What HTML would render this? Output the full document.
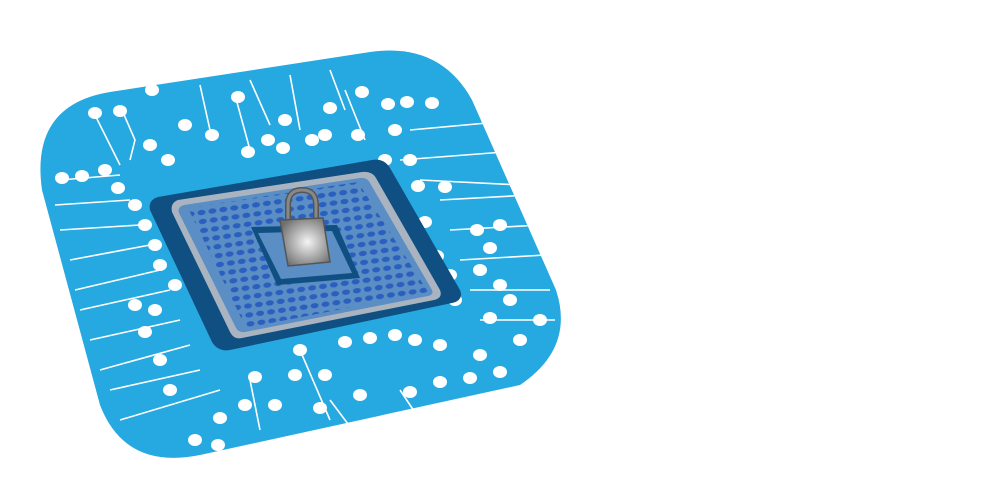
<!DOCTYPE html>
<html><head><style>html,body{margin:0;padding:0;background:#fff;width:1000px;height:504px;overflow:hidden}</style></head>
<body>
<svg width="1000" height="504" viewBox="0 0 1000 504" xmlns="http://www.w3.org/2000/svg">
<defs>
<pattern id="dp" width="11" height="9" patternUnits="userSpaceOnUse" patternTransform="rotate(-8)">
<ellipse cx="5" cy="4.5" rx="4" ry="2.6" fill="#2a5fc0"/>
</pattern>
<radialGradient id="lg" cx="0.55" cy="0.5" r="0.6">
<stop offset="0" stop-color="#f4f4f4"/><stop offset="1" stop-color="#6f6f6f"/>
</radialGradient>
</defs>
<path d="M110,92 L370,52 Q440,42 472,100 L556,290 Q575,348 520,385 L200,455 Q125,470 100,405 L42,190 Q30,105 110,92 Z" fill="#26a9e0"/>
<g stroke="#fff" stroke-width="1.6" fill="none">
<path d="M95,115 L120,165 M122,110 L135,140 L130,160 M200,85 L210,130 M235,95 L250,150 M250,80 L270,125 M290,75 L300,130 M330,70 L345,110 M345,90 L365,140 M60,180 L120,175 M55,205 L130,200 M60,230 L140,225 M70,260 L150,245 M75,290 L160,270 M80,310 L170,290 M90,340 L180,320 M100,370 L190,345 M110,390 L200,370 M120,420 L220,390 M410,130 L520,120 M400,160 L530,150 M420,180 L520,185 M440,200 L530,195 M450,230 L540,225 M460,260 L545,255 M470,290 L550,290 M480,320 L555,320 M300,350 L330,420 M250,380 L260,430 M330,400 L360,440 M400,390 L420,420"/>
</g>
<g fill="#fff">
<ellipse cx="95" cy="113" rx="7" ry="6"/><ellipse cx="120" cy="111" rx="7" ry="6"/><ellipse cx="152" cy="90" rx="7" ry="6"/>
<ellipse cx="150" cy="145" rx="7" ry="6"/><ellipse cx="168" cy="160" rx="7" ry="6"/><ellipse cx="185" cy="125" rx="7" ry="6"/>
<ellipse cx="212" cy="135" rx="7" ry="6"/><ellipse cx="238" cy="97" rx="7" ry="6"/><ellipse cx="248" cy="152" rx="7" ry="6"/>
<ellipse cx="268" cy="140" rx="7" ry="6"/><ellipse cx="285" cy="120" rx="7" ry="6"/><ellipse cx="283" cy="148" rx="7" ry="6"/>
<ellipse cx="312" cy="140" rx="7" ry="6"/><ellipse cx="330" cy="108" rx="7" ry="6"/><ellipse cx="325" cy="135" rx="7" ry="6"/>
<ellipse cx="358" cy="135" rx="7" ry="6"/><ellipse cx="362" cy="92" rx="7" ry="6"/><ellipse cx="388" cy="104" rx="7" ry="6"/>
<ellipse cx="407" cy="102" rx="7" ry="6"/><ellipse cx="432" cy="103" rx="7" ry="6"/><ellipse cx="395" cy="130" rx="7" ry="6"/>
<ellipse cx="385" cy="160" rx="7" ry="6"/><ellipse cx="410" cy="160" rx="7" ry="6"/><ellipse cx="418" cy="186" rx="7" ry="6"/>
<ellipse cx="445" cy="187" rx="7" ry="6"/><ellipse cx="425" cy="222" rx="7" ry="6"/><ellipse cx="477" cy="230" rx="7" ry="6"/>
<ellipse cx="500" cy="225" rx="7" ry="6"/><ellipse cx="437" cy="256" rx="7" ry="6"/><ellipse cx="490" cy="248" rx="7" ry="6"/>
<ellipse cx="450" cy="275" rx="7" ry="6"/><ellipse cx="480" cy="270" rx="7" ry="6"/><ellipse cx="500" cy="285" rx="7" ry="6"/>
<ellipse cx="455" cy="300" rx="7" ry="6"/><ellipse cx="510" cy="300" rx="7" ry="6"/><ellipse cx="490" cy="318" rx="7" ry="6"/>
<ellipse cx="540" cy="320" rx="7" ry="6"/><ellipse cx="520" cy="340" rx="7" ry="6"/><ellipse cx="480" cy="355" rx="7" ry="6"/>
<ellipse cx="440" cy="345" rx="7" ry="6"/><ellipse cx="415" cy="340" rx="7" ry="6"/><ellipse cx="395" cy="335" rx="7" ry="6"/>
<ellipse cx="370" cy="338" rx="7" ry="6"/><ellipse cx="345" cy="342" rx="7" ry="6"/><ellipse cx="300" cy="350" rx="7" ry="6"/>
<ellipse cx="295" cy="375" rx="7" ry="6"/><ellipse cx="325" cy="375" rx="7" ry="6"/><ellipse cx="360" cy="395" rx="7" ry="6"/>
<ellipse cx="410" cy="392" rx="7" ry="6"/><ellipse cx="440" cy="382" rx="7" ry="6"/><ellipse cx="470" cy="378" rx="7" ry="6"/>
<ellipse cx="500" cy="372" rx="7" ry="6"/><ellipse cx="255" cy="377" rx="7" ry="6"/><ellipse cx="245" cy="405" rx="7" ry="6"/>
<ellipse cx="275" cy="405" rx="7" ry="6"/><ellipse cx="320" cy="408" rx="7" ry="6"/><ellipse cx="220" cy="418" rx="7" ry="6"/>
<ellipse cx="195" cy="440" rx="7" ry="6"/><ellipse cx="218" cy="445" rx="7" ry="6"/><ellipse cx="170" cy="390" rx="7" ry="6"/>
<ellipse cx="160" cy="360" rx="7" ry="6"/><ellipse cx="145" cy="332" rx="7" ry="6"/><ellipse cx="135" cy="305" rx="7" ry="6"/>
<ellipse cx="155" cy="310" rx="7" ry="6"/><ellipse cx="175" cy="285" rx="7" ry="6"/><ellipse cx="160" cy="265" rx="7" ry="6"/>
<ellipse cx="155" cy="245" rx="7" ry="6"/><ellipse cx="145" cy="225" rx="7" ry="6"/><ellipse cx="135" cy="205" rx="7" ry="6"/>
<ellipse cx="118" cy="188" rx="7" ry="6"/><ellipse cx="62" cy="178" rx="7" ry="6"/><ellipse cx="82" cy="176" rx="7" ry="6"/>
<ellipse cx="105" cy="170" rx="7" ry="6"/>
</g>
<path d="M158,197 L372,160 Q384,158 390,168 L460,290 Q464,300 452,303 L230,350 Q218,352 212,342 L150,210 Q148,200 158,197 Z" fill="#0f4f82"/>
<path d="M178,200 L362,172 Q372,171 376,178 L440,290 Q443,298 434,300 L242,338 Q234,340 230,332 L172,212 Q170,203 178,200 Z" fill="#a9b4c0"/>
<path d="M184,205 L360,178 Q367,177 370,183 L432,290 Q434,295 428,296 L245,332 Q239,333 236,328 L179,213 Q177,207 184,205 Z" fill="#5a8ec4"/>
<path d="M188,208 L358,182 L428,292 L246,328 Z" fill="url(#dp)"/>
<path d="M251,227 L337,225 L360,278 L277,285 Z" fill="#0f4f82"/>
<path d="M258,233 L332,231 L352,273 L281,279 Z" fill="#5a8ec4"/>
<path d="M288,222 L288,205 Q288,190 302,190 Q316,190 316,205 L316,222" fill="none" stroke="#555" stroke-width="6"/>
<path d="M288,222 L288,205 Q288,190 302,190 Q316,190 316,205 L316,222" fill="none" stroke="#888" stroke-width="3"/>
<path d="M280,220 L323,218 L330,262 L288,266 Z" fill="url(#lg)" stroke="#555" stroke-width="1.5"/>
</svg>
</body></html>
